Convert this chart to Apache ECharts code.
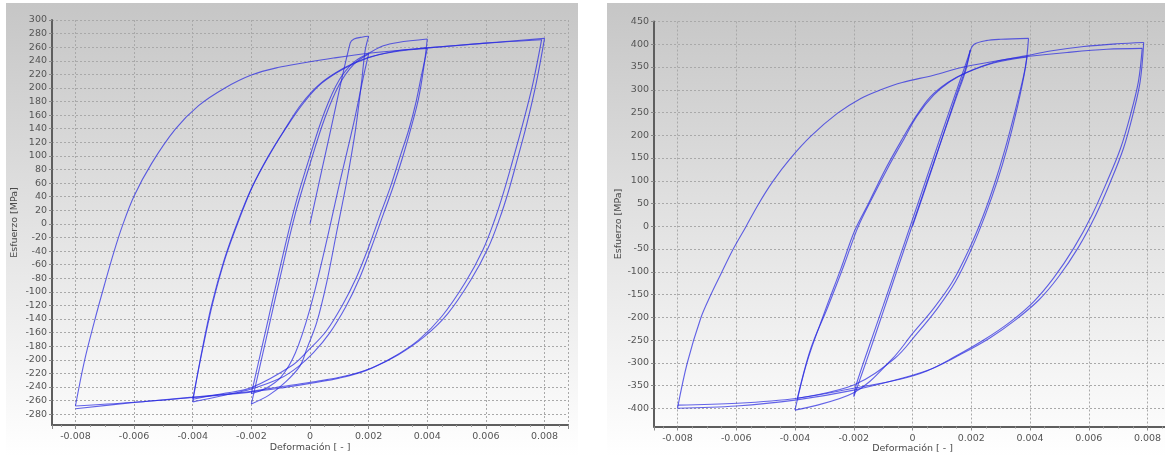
<!DOCTYPE html>
<html><head><meta charset="utf-8">
<script src="https://cdn.jsdelivr.net/npm/echarts@6/dist/echarts.min.js"></script>
<style>html,body{margin:0;padding:0;background:#fff}#c{width:1165px;height:456px}</style>
</head><body><div id="c"></div>
<script>
// ---------- Left panel (strain [-], stress [MPa]) ----------
const L_init = [[0,0],[0.0007,137],[0.00137,266],[0.0015,272],[0.0018,275],[0.002,276]];
const L2_dn1 = [[0.002,276],[0.00188,255],[0.00176,209],[0.00154,135],[0.00125,62],[0.00091,-12],[0.00057,-86],[0.00023,-145],[-0.00011,-184],[-0.00034,-209],[-0.00084,-233],[-0.0014,-252],[-0.002,-265]];
const L2_up1 = [[-0.002,-265],[-0.0015,-170],[-0.001,-75],[-0.0005,15],[0,88],[0.0005,155],[0.001,205],[0.0015,235],[0.002,250]];
const L2_dn2 = [[0.002,250],[0.0018,212],[0.0015,150],[0.001,58],[0.0005,-38],[0,-125],[-0.0005,-190],[-0.001,-226],[-0.0015,-242],[-0.002,-250]];
const L2_up2 = [[-0.002,-250],[-0.0015,-155],[-0.001,-60],[-0.0005,28],[0,100],[0.0005,165],[0.001,212],[0.0015,238],[0.002,251],[0.0025,262],[0.003,267],[0.004,272]];
const L4_dn1 = [[0.004,272],[0.00388,230],[0.0037,184],[0.00347,145],[0.00318,101],[0.00284,55],[0.0025,14],[0.0021,-34],[0.00167,-82],[0.00122,-122],[0.00068,-160],[0.00011,-190],[-0.0004,-210],[-0.001,-227],[-0.002,-243],[-0.003,-253],[-0.004,-262]];
const L4_up1 = [[-0.004,-262],[-0.0037,-190],[-0.00336,-120],[-0.00292,-52],[-0.00246,4],[-0.002,52],[-0.00143,99],[-0.00086,139],[-0.0003,176],[0.00034,206],[0.00114,229],[0.00193,244],[0.00284,253],[0.004,258]];
const L4_dn2 = [[0.004,258],[0.0038,218],[0.00362,180],[0.00338,140],[0.00308,100],[0.00274,54],[0.0024,14],[0.002,-34],[0.00157,-80],[0.0011,-120],[0.00055,-158],[-0.0001,-188],[-0.0006,-208],[-0.002,-241],[-0.003,-250],[-0.004,-258]];
const L4_up2 = [[-0.004,-258],[-0.00367,-186],[-0.00332,-117],[-0.00288,-49],[-0.00242,6],[-0.00196,55],[-0.00139,101],[-0.00082,141],[-0.0002,179],[0.0004,207],[0.00118,229],[0.00197,244],[0.00288,254],[0.004,259],[0.006,266],[0.0079,271]];
const LB_dn1 = [[0.0079,271],[0.0076,206],[0.00725,146],[0.0069,91],[0.0066,46],[0.0063,6],[0.0059,-38],[0.0053,-86],[0.0045,-136],[0.0037,-171],[0.0028,-197],[0.0019,-216],[0.001,-227],[0.0001,-234],[-0.0009,-241],[-0.0021,-248],[-0.0041,-256],[-0.0061,-263],[-0.008,-268]];
const LB_up1 = [[-0.008,-268],[-0.0077,-203],[-0.00735,-143],[-0.007,-88],[-0.0067,-43],[-0.0064,-3],[-0.006,41],[-0.0054,89],[-0.0046,139],[-0.0038,174],[-0.0029,200],[-0.002,219],[-0.0011,230],[-0.0002,237],[0.0008,244],[0.002,251],[0.004,259],[0.006,266],[0.008,273]];
const LB_dn2 = [[0.008,273],[0.00772,208],[0.0074,148],[0.00706,93],[0.00677,48],[0.00647,8],[0.00607,-36],[0.00548,-83],[0.0047,-132],[0.0039,-166],[0.003,-193],[0.0021,-212],[0.0012,-224],[0.0002,-232],[-0.0009,-239],[-0.0021,-247],[-0.004,-255],[-0.006,-263],[-0.008,-272]];
const LEFT = [L_init, L2_dn1, L2_up1, L2_dn2, L2_up2, L4_dn1, L4_up1, L4_dn2, L4_up2, LB_dn1, LB_up1, LB_dn2];

// ---------- Right panel ----------
const R_init = [[0,0],[0.0005,95],[0.001,192],[0.0015,290],[0.0018,345],[0.00197,387]];
const R2_dn1 = [[0.00197,387],[0.0018,354],[0.0014,280],[0.001,205],[0.0005,110],[0,15],[-0.0005,-80],[-0.001,-175],[-0.0015,-268],[-0.0019,-345],[-0.002,-372]];
const R2_up1 = [[-0.002,-375],[-0.0015,-283],[-0.001,-188],[-0.0005,-92],[0,3],[0.0005,98],[0.001,192],[0.0015,285],[0.0018,340],[0.00197,387]];
const R24 = [[0.00197,387],[0.0021,400],[0.0025,408],[0.003,411],[0.00395,413]];
const R4_dn1 = [[0.00395,413],[0.00384,347],[0.00356,259],[0.00322,171],[0.00288,98],[0.00248,25],[0.00202,-48],[0.00146,-122],[0.00083,-182],[0.00015,-236],[-0.0006,-290],[-0.002,-349],[-0.00392,-378]];
const R4_up1 = [[-0.00392,-378],[-0.00346,-268],[-0.0029,-180],[-0.00233,-85],[-0.00187,-4],[-0.00142,56],[-0.00085,127],[-0.00028,193],[0.00015,242],[0.00072,288],[0.00128,318],[0.00185,338],[0.00276,359],[0.0039,372]];
const R4_dn2 = [[0.0039,372],[0.00378,330],[0.00348,250],[0.00313,165],[0.0028,95],[0.0024,22],[0.00193,-50],[0.00136,-122],[0.0007,-182],[0,-236],[-0.0007,-292],[-0.002,-366],[-0.004,-404]];
const R4_up2 = [[-0.004,-404],[-0.0036,-300],[-0.003,-190],[-0.00243,-92],[-0.00197,-10],[-0.0015,50],[-0.00095,122],[-0.0004,186],[0.0001,240],[0.0006,284],[0.0012,316],[0.0018,337],[0.0028,361],[0.0039,375],[0.00469,385],[0.00583,395],[0.00696,401],[0.00787,404]];
const RB_dn2 = [[0.00787,404],[0.00775,318],[0.0075,245],[0.00718,171],[0.00674,98],[0.00624,25],[0.00563,-48],[0.00496,-112],[0.0043,-162],[0.00352,-205],[0.00262,-246],[0.0016,-283],[0.0007,-312],[-0.0003,-333],[-0.002,-360],[-0.004,-382],[-0.006,-395],[-0.008,-400]];
const RB_up = [[-0.008,-400],[-0.00767,-301],[-0.00721,-202],[-0.00687,-151],[-0.00651,-103],[-0.00612,-52],[-0.00568,-2],[-0.00525,48],[-0.00476,98],[-0.00417,148],[-0.00346,198],[-0.00256,248],[-0.00176,281],[-0.00108,300],[-0.00035,316],[0.00072,332],[0.00174,350],[0.00299,365],[0.0039,373],[0.00526,382],[0.00662,389],[0.00782,391]];
const RB_dn1 = [[0.00782,391],[0.00769,318],[0.00742,245],[0.00708,171],[0.00662,98],[0.00611,25],[0.00549,-48],[0.0048,-114],[0.00412,-166],[0.00333,-210],[0.00242,-250],[0.0014,-288],[0.00049,-318],[-0.00042,-336],[-0.002,-356],[-0.00392,-378],[-0.00596,-389],[-0.008,-393]];
const RIGHT = [R_init, R2_dn1, R2_up1, R24, R4_dn1, R4_up1, R4_dn2, R4_up2, RB_dn2, RB_up, RB_dn1];

const X_NAME = 'Deformación [ - ]';
const Y_NAME = 'Esfuerzo [MPa]';

const chart = echarts.init(document.getElementById('c'), null, {renderer: 'canvas'});
const FONT = 'DejaVu Sans';
const grad = () => new echarts.graphic.LinearGradient(0, 0, 0, 1, [
  {offset: 0, color: '#c6c6c6'}, {offset: 0.5, color: '#e3e3e3'}, {offset: 1, color: '#ffffff'}]);

function xAx(gi, gap) {
  return {
    gridIndex: gi, type: 'value', min: -0.0088, max: 0.0088, splitNumber: 9,
    name: X_NAME, nameLocation: 'middle', nameGap: gap, nameMoveOverlap: false,
    nameTextStyle: {fontFamily: FONT, fontSize: 9.5, color: '#4a4a4a', verticalAlign: 'top'},
    axisLine: {show: true, onZero: false, lineStyle: {color: '#5e5e5e', width: 2}},
    axisTick: {show: true, length: 4, lineStyle: {color: '#8a8a8a'}},
    minorTick: {show: true, splitNumber: 4, length: 2, lineStyle: {color: '#9a9a9a'}},
    axisLabel: {showMinLabel: false, showMaxLabel: false, fontFamily: FONT, fontSize: 9.5, color: '#555', margin: 7},
    splitLine: {show: true, lineStyle: {color: '#a9a9a9', type: [2, 2], width: 1}}
  };
}
function yAx(gi, mn, mx, sn, gap) {
  return {
    gridIndex: gi, type: 'value', min: mn, max: mx, splitNumber: sn,
    name: Y_NAME, nameLocation: 'middle', nameGap: gap, nameRotate: 90, nameMoveOverlap: false,
    nameTextStyle: {fontFamily: FONT, fontSize: 9.5, color: '#4a4a4a'},
    axisLine: {show: true, onZero: false, lineStyle: {color: '#5e5e5e', width: 2}},
    axisTick: {show: true, length: 3, lineStyle: {color: '#8a8a8a'}},
    axisLabel: {showMinLabel: false, fontFamily: FONT, fontSize: 9.5, color: '#555', margin: 5},
    splitLine: {show: true, lineStyle: {color: '#a9a9a9', type: [2, 2], width: 1}}
  };
}
function mk(data, gi) {
  return {type: 'line', xAxisIndex: gi, yAxisIndex: gi, data: data, showSymbol: false, symbol: 'none',
    smooth: 0.35, silent: true, clip: true,
    lineStyle: {color: 'rgba(40,40,225,0.72)', width: 1.1}};
}

const series = [];
LEFT.forEach(d => series.push(mk(d, 0)));
RIGHT.forEach(d => series.push(mk(d, 1)));

chart.setOption({
  animation: false,
  backgroundColor: '#ffffff',
  graphic: [
    {type: 'rect', z: -10, silent: true, shape: {x: 6, y: 3, width: 572, height: 453}, style: {fill: grad()}},
    {type: 'rect', z: -10, silent: true, shape: {x: 607, y: 3, width: 560, height: 453}, style: {fill: grad()}}
  ],
  grid: [
    {left: 52, top: 20, width: 516, height: 405, containLabel: false, outerBoundsMode: 'none'},
    {left: 654, top: 21.5, width: 517, height: 405, containLabel: false, outerBoundsMode: 'none'}
  ],
  xAxis: [xAx(0, 18), xAx(1, 17)],
  yAxis: [yAx(0, -296, 300, 30, 32), yAx(1, -440, 450, 18, 30)],
  series: series
});
</script></body></html>
